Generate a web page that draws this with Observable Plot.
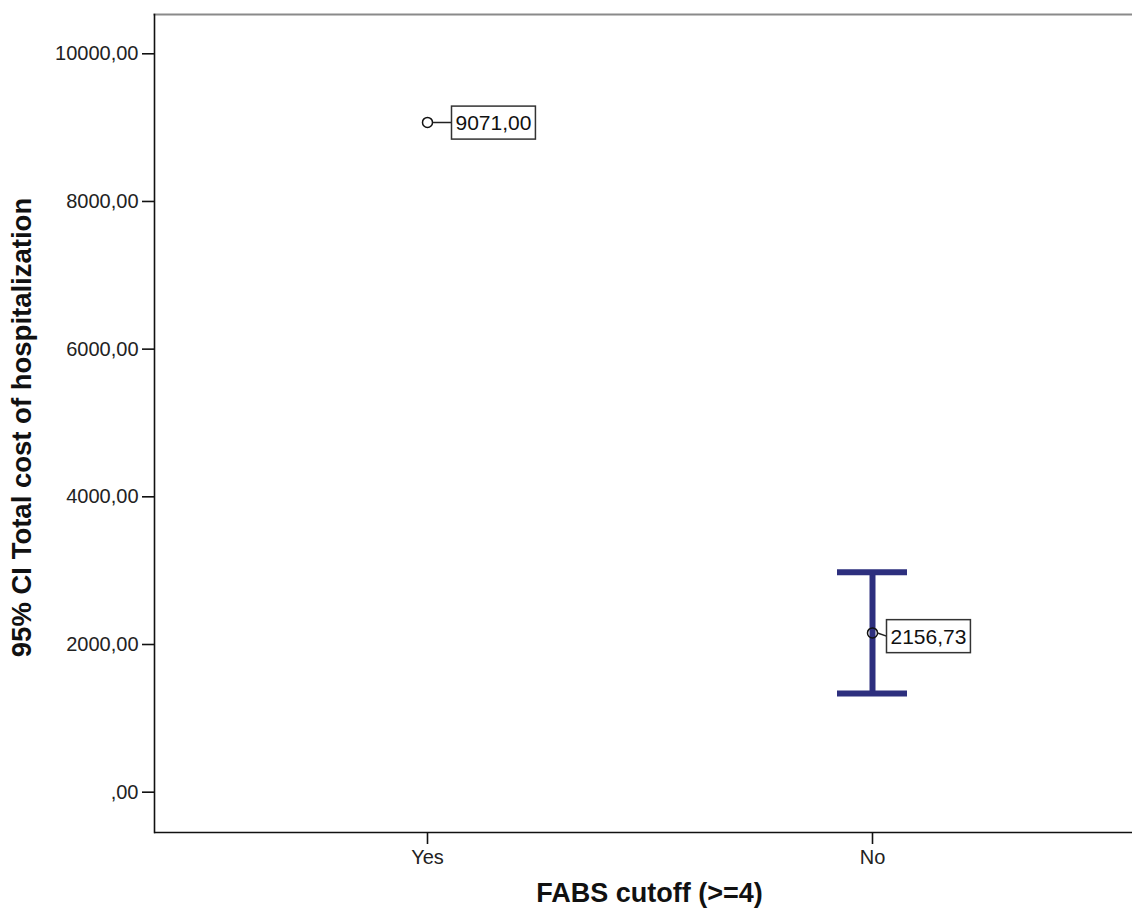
<!DOCTYPE html>
<html><head><meta charset="utf-8">
<script src="https://cdn.jsdelivr.net/npm/d3@7"></script>
<script src="https://cdn.jsdelivr.net/npm/@observablehq/plot@0.6"></script>
<style>body{margin:0;background:#fff;} #chart svg{display:block;}</style>
</head><body><div id="chart"></div>
<script>
// ---- data ----
const categories = ["Yes", "No"];
const means = [9071.00, 2156.73];
const ciLower = [null, 1338];
const ciUpper = [null, 2977];
const yTicks = [0, 2000, 4000, 6000, 8000, 10000];
const xTitle = "FABS cutoff (>=4)";
const yTitle = "95% CI Total cost of hospitalization";

const rows = categories.map((c, i) => ({cat: c, mean: means[i], lo: ciLower[i], hi: ciUpper[i]}));
const bars = rows.filter(d => d.lo != null);
const fmt = v => v === 0 ? ",00" : d3.format(".2f")(v).replace(".", ",");

const navy = "#2d2f7e";
const font = "Arial, 'Liberation Sans', sans-serif";
const yDomain = [-546, 10532];

const chart = Plot.plot({
  width: 1132,
  height: 915,
  marginLeft: 154,
  marginRight: 0,
  marginTop: 14,
  marginBottom: 83,
  style: {fontFamily: font, fontSize: "20px", color: "#222", background: "#fff"},
  x: {type: "band", domain: categories, range: [154, 1145], paddingInner: 0.843, paddingOuter: 0.534, label: null},
  y: {domain: yDomain, label: null},
  marks: [
    Plot.frame({anchor: "top", stroke: "#8a8a8a", strokeWidth: 2.2}),
    Plot.frame({anchor: "left", stroke: "#111", strokeWidth: 1.6}),
    Plot.ruleY([yDomain[0]], {stroke: "#111", strokeWidth: 1.6}),
    Plot.axisY({ticks: yTicks, tickFormat: fmt, tickSize: 12, tickPadding: 4, label: null, stroke: "#111", strokeWidth: 1.6, fill: "#222"}),
    Plot.axisX({tickSize: 12, tickPadding: 5, label: null, stroke: "#111", strokeWidth: 1.6, fill: "#222"}),
    Plot.ruleX(bars, {x: "cat", y1: "lo", y2: "hi", stroke: navy, strokeWidth: 6}),
    Plot.tickY(bars, {x: "cat", y: "lo", stroke: navy, strokeWidth: 6}),
    Plot.tickY(bars, {x: "cat", y: "hi", stroke: navy, strokeWidth: 6}),
    Plot.dot(rows, {x: "cat", y: "mean", r: 5, stroke: "#111", strokeWidth: 1.5, fill: "none"}),
    Plot.text(rows.filter(d => d.lo == null), {x: "cat", y: "mean", text: d => fmt(d.mean), dx: 28, dy: 1, textAnchor: "start", fontSize: 21, fill: "#111"}),
    Plot.text(bars, {x: "cat", y: "mean", text: d => fmt(d.mean), dx: 18, dy: 4, textAnchor: "start", fontSize: 21, fill: "#111"}),
    Plot.text([xTitle], {frameAnchor: "bottom", dx: 6, dy: 69, fontSize: 27, fontWeight: "bold", fill: "#111"}),
    Plot.text([yTitle], {frameAnchor: "left", dx: -132, dy: 4, rotate: -90, textAnchor: "middle", fontSize: 27.5, fontWeight: "bold", fill: "#111"})
  ]
});
document.getElementById("chart").append(chart);

// boxes around value labels and connectors to the points (derived from rendered positions)
const svgRect = chart.getBoundingClientRect();
const textGroups = [...chart.querySelectorAll('g[aria-label="text"]')].slice(0, 2);
const labelTexts = textGroups.flatMap(g => [...g.querySelectorAll("text")]);
const circles = [...chart.querySelectorAll('g[aria-label="dot"] circle')];
const ns = "http://www.w3.org/2000/svg";
const deco = document.createElementNS(ns, "g");
if (textGroups.length) textGroups[0].parentNode.insertBefore(deco, textGroups[0]);
else chart.appendChild(deco);
labelTexts.forEach((t, i) => {
  const r = t.getBoundingClientRect();
  const padX = 4, padY = 5;
  const bx = r.left - svgRect.left - padX, by = r.top - svgRect.top - padY;
  const bw = r.width + 2 * padX, bh = r.height + 2 * padY;
  const c = circles[i].getBoundingClientRect();
  const cx = c.left - svgRect.left + c.width / 2, cy = c.top - svgRect.top + c.height / 2;
  const line = document.createElementNS(ns, "line");
  line.setAttribute("x1", cx + c.width / 2);
  line.setAttribute("y1", cy);
  line.setAttribute("x2", bx);
  line.setAttribute("y2", by + bh / 2);
  line.setAttribute("stroke", "#222");
  line.setAttribute("stroke-width", 1.5);
  deco.appendChild(line);
  const rect = document.createElementNS(ns, "rect");
  rect.setAttribute("x", bx); rect.setAttribute("y", by);
  rect.setAttribute("width", bw); rect.setAttribute("height", bh);
  rect.setAttribute("fill", "#fff"); rect.setAttribute("stroke", "#333"); rect.setAttribute("stroke-width", 1.5);
  deco.appendChild(rect);
});
</script>
</body></html>
